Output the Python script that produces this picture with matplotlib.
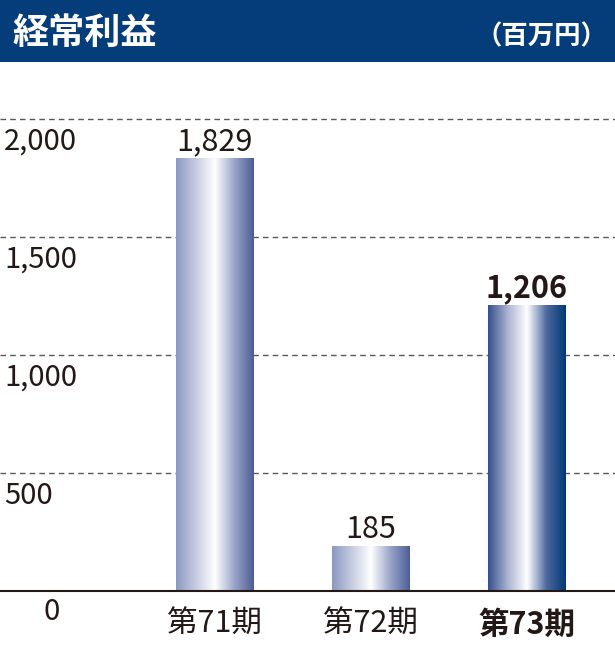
import numpy as np
import matplotlib.pyplot as plt
from matplotlib.colors import LinearSegmentedColormap
from matplotlib.patches import Rectangle

plt.rcParams['font.family'] = ['Noto Sans CJK JP', 'DejaVu Sans']

categories = ['第71期', '第72期', '第73期']
values = [1829, 185, 1206]
value_labels = ['1,829', '185', '1,206']
yticks = [500, 1000, 1500, 2000]
ytick_labels = ['500', '1,000', '1,500', '2,000']

ink = '#231815'
navy = '#053c7a'

fig = plt.figure(figsize=(6.15, 6.5), dpi=100)

# header band
fig.patches.append(Rectangle((0, 588 / 650), 1, 62 / 650, transform=fig.transFigure,
                             facecolor=navy, edgecolor='none'))
fig.text(12 / 615, 1 - 33 / 650, '経常利益', color='white', fontsize=26, fontweight='bold',
         va='center', ha='left')
fig.text(607 / 615, 1 - 37 / 650, '（百万円）', color='white', fontsize=19, fontweight='bold',
         va='center', ha='right')

ax = fig.add_axes([0, 59.5 / 650, 1, 528.5 / 650])
scale = 0.236  # px per unit
for s in ax.spines.values():
    s.set_visible(False)
ax.set_xticks([])
ax.set_yticks([])

for t, lab in zip(yticks, ytick_labels):
    ax.axhline(t, color='#595757', lw=1, ls=(0, (4, 3)), zorder=0)
    ax.annotate(lab, (0, t), xycoords=('axes fraction', 'data'), xytext=(3, -6),
                textcoords='offset points', ha='left', va='top', fontsize=21, color=ink)
ax.axhline(0, color=ink, lw=1.5, zorder=3, clip_on=False)
ax.annotate('0', (52 / 615, 0), xycoords=('axes fraction', 'data'), xytext=(0, -5),
            textcoords='offset points', ha='center', va='top', fontsize=21, color=ink,
            annotation_clip=False)

cmap_light = LinearSegmentedColormap.from_list('l', ['#8c98c2', '#c5cbe0', '#ffffff', '#9aa4c8', '#4b5f96'])
cmap_dark = LinearSegmentedColormap.from_list('d', ['#34508c', '#a9b2d0', '#ffffff', '#4e6aa0', '#003876'])

bars = ax.bar(range(len(values)), values, width=77 / 156, color='none', zorder=2)
grad = np.linspace(0, 1, 256).reshape(1, -1)
for i, b in enumerate(bars):
    x0, w, h = b.get_x(), b.get_width(), b.get_height()
    cm = cmap_dark if i == 2 else cmap_light
    ax.imshow(grad, cmap=cm, aspect='auto', extent=(x0, x0 + w, 0, h), zorder=2,
              interpolation='bilinear')
    bold = 'bold' if i == 2 else 'normal'
    ax.annotate(value_labels[i], (x0 + w / 2, h), xytext=(0, 1),
                textcoords='offset points', ha='center', va='bottom', fontsize=22,
                color=ink, fontweight=bold)
    ax.annotate(categories[i], (x0 + w / 2, 0), xytext=(0, -13),
                textcoords='offset points', ha='center', va='top', fontsize=22,
                color=ink, fontweight=bold, annotation_clip=False)

ax.set_xlim(-1.375, 2.567)
ax.set_ylim(0, 528.5 / scale)

fig.savefig('out.png', dpi=100, facecolor='white')
